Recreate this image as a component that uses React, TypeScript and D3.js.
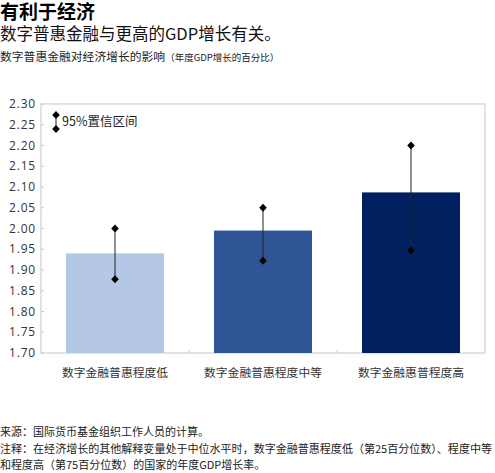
import * as d3 from "d3";

const categories = ["数字金融普惠程度低", "数字金融普惠程度中等", "数字金融惠普程度高"];
const growth = [1.94, 1.995, 2.087];
const ciLow = [1.878, 1.922, 1.947];
const ciHigh = [2.0, 2.05, 2.2];
const barColors = ["#b4c7e7", "#2f5597", "#002060"];
const yTicks = d3.range(1.7, 2.3001, 0.05);

const W = 495;
const H = 473;
const plot = { left: 41, right: 485, top: 104, bottom: 353 };

const cjk = "'Noto Sans CJK SC', 'Noto Sans', sans-serif";
const num = "'Open Sans', 'Noto Sans', sans-serif";

const diamond = "M0,-4L3.8,0L0,4L-3.8,0Z";

export default function App() {
  const x = d3
    .scaleBand()
    .domain(categories)
    .range([plot.left, plot.right])
    .paddingInner(0.338)
    .paddingOuter(0.169);
  const y = d3.scaleLinear().domain([1.7, 2.3]).range([plot.bottom, plot.top]);
  const step = x.step();

  return (
    <svg
      width={W}
      height={H}
      style={{ position: "absolute", left: 0, top: 0, background: "#fff" }}
    >
      <text x={0} y={19} fontFamily={cjk} fontSize={19} fontWeight={700} fill="#000">
        有利于经济
      </text>
      <text x={0} y={39.5} fontFamily={cjk} fontSize={16.5} fill="#111">
        数字普惠金融与更高的GDP增长有关。
      </text>
      <text x={0} y={61} fontFamily={cjk} fontSize={11.8} fill="#222">
        数字普惠金融对经济增长的影响
        <tspan fontSize={9.5}>（年度GDP增长的百分比）</tspan>
      </text>

      {/* plot frame */}
      <rect
        x={plot.left}
        y={plot.top}
        width={plot.right - plot.left}
        height={plot.bottom - plot.top}
        fill="none"
        stroke="#d0d0d0"
        strokeWidth={1.2}
      />

      {yTicks.map((t) => (
        <g key={t.toFixed(2)}>
          <line
            x1={plot.left}
            x2={plot.left + 3}
            y1={y(t)}
            y2={y(t)}
            stroke="#c8c8c8"
          />
          <text
            x={36}
            y={y(t)}
            dy="0.35em"
            textAnchor="end"
            fontFamily={num}
            fontSize={12}
            letterSpacing={0.8}
            fill="#333"
          >
            {t.toFixed(2)}
          </text>
        </g>
      ))}

      {categories.slice(1).map((c) => (
        <line
          key={c}
          x1={(x(c) ?? 0) - (step - x.bandwidth()) / 2}
          x2={(x(c) ?? 0) - (step - x.bandwidth()) / 2}
          y1={plot.bottom}
          y2={plot.bottom - 3}
          stroke="#c8c8c8"
        />
      ))}

      {categories.map((c, i) => {
        const bx = x(c) ?? 0;
        const cx = bx + x.bandwidth() / 2;
        return (
          <g key={c}>
            <rect
              x={bx}
              y={y(growth[i])}
              width={x.bandwidth()}
              height={plot.bottom - y(growth[i])}
              fill={barColors[i]}
            />
            <line
              x1={cx}
              x2={cx}
              y1={y(ciLow[i])}
              y2={y(ciHigh[i])}
              stroke="#222"
              strokeWidth={1}
            />
            <path d={diamond} transform={`translate(${cx},${y(ciLow[i])})`} fill="#000" />
            <path d={diamond} transform={`translate(${cx},${y(ciHigh[i])})`} fill="#000" />
            <text
              x={cx}
              y={377}
              textAnchor="middle"
              fontFamily={cjk}
              fontSize={11.8}
              fill="#333"
            >
              {c}
            </text>
          </g>
        );
      })}

      {/* legend */}
      <line x1={56} x2={56} y1={115} y2={129} stroke="#222" />
      <path d={diamond} transform="translate(56,115)" fill="#000" />
      <path d={diamond} transform="translate(56,129)" fill="#000" />
      <text x={62} y={122} dy="0.35em" fontFamily={cjk} fontSize={12.5} fill="#222">
        95%置信区间
      </text>

      {/* notes */}
      <text x={0} y={436} fontFamily={cjk} fontSize={11} fill="#222">
        来源：国际货币基金组织工作人员的计算。
      </text>
      <text
        x={0}
        y={453}
        fontFamily={cjk}
        fontSize={11}
        fill="#222"
        textLength={492}
        lengthAdjust="spacingAndGlyphs"
      >
        注释：在经济增长的其他解释变量处于中位水平时，数字金融普惠程度低（第25百分位数）、程度中等
      </text>
      <text x={0} y={469} fontFamily={cjk} fontSize={11} fill="#222">
        和程度高（第75百分位数）的国家的年度GDP增长率。
      </text>
    </svg>
  );
}
